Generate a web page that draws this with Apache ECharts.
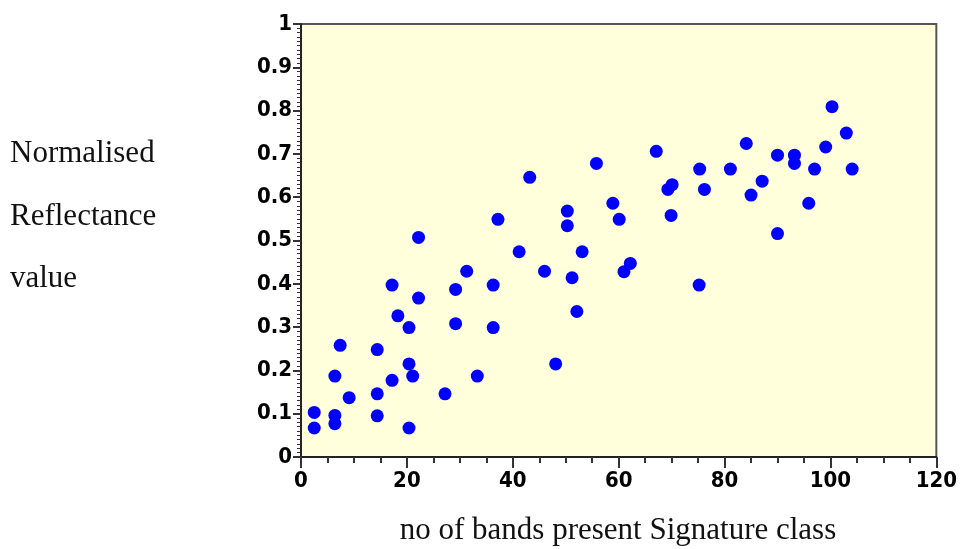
<!DOCTYPE html>
<html>
<head>
<meta charset="utf-8">
<script src="https://cdn.jsdelivr.net/npm/echarts@6/dist/echarts.min.js"></script>
<style>
  html, body { margin: 0; padding: 0; background: #fff; }
  #chart { width: 960px; height: 549px; }
</style>
</head>
<body>
<div id="chart"></div>
<script>
// band counts (x) and normalised reflectance (y)
const bands = [2.5, 2.5, 6.4, 6.4, 6.4, 7.4, 9.1, 14.4, 14.4, 14.4, 17.2, 17.2, 18.3, 20.4, 20.4, 20.4,
  21.1, 22.2, 22.2, 27.2, 29.2, 29.2, 31.3, 33.3, 36.3, 36.3, 37.2, 41.2, 43.2, 46.0, 48.1, 50.3, 50.3,
  51.2, 52.1, 53.1, 55.8, 58.9, 60.1, 61.0, 62.2, 67.1, 69.3, 70.1, 69.9, 75.3, 75.2, 76.2, 81.1, 84.1,
  85.0, 87.1, 90.0, 90.0, 93.2, 93.2, 95.9, 97.0, 99.1, 100.3, 103.0, 104.1];
const reflectance = [0.103, 0.067, 0.187, 0.096, 0.077, 0.258, 0.137, 0.248, 0.146, 0.095, 0.397, 0.177,
  0.326, 0.299, 0.215, 0.067, 0.187, 0.507, 0.367, 0.146, 0.387, 0.308, 0.429, 0.187, 0.397, 0.299, 0.549,
  0.474, 0.646, 0.429, 0.215, 0.568, 0.534, 0.414, 0.336, 0.474, 0.678, 0.586, 0.549, 0.428, 0.447, 0.706,
  0.618, 0.629, 0.558, 0.665, 0.397, 0.618, 0.665, 0.724, 0.605, 0.637, 0.697, 0.516, 0.697, 0.678, 0.586,
  0.665, 0.716, 0.809, 0.748, 0.665];

const yLabelLines = ['Normalised', 'Reflectance', 'value'];
const xTitle = 'no of bands present Signature class';

const points = bands.map((b, i) => [b, reflectance[i]]);

const chart = echarts.init(document.getElementById('chart'));

const tickFont = {
  fontFamily: '"DejaVu Sans Condensed", "Liberation Sans Narrow", "Liberation Sans", sans-serif',
  fontWeight: 'bold',
  fontSize: 22,
  color: '#000'
};
const serif = '31px "Liberation Serif", "Times New Roman", serif';

chart.setOption({
  animation: false,
  backgroundColor: '#fff',
  grid: {
    left: 301, right: 23, top: 24, bottom: 92,
    show: true,
    backgroundColor: '#ffffdc',
    borderColor: '#555',
    borderWidth: 2
  },
  graphic: yLabelLines.map((t, i) => ({
    type: 'text',
    x: 10,
    y: 154 + i * 62.5,
    style: { text: t, font: serif, fill: '#111', verticalAlign: 'middle' }
  })).concat([{
    type: 'text',
    x: 618,
    y: 531,
    style: { text: xTitle, font: serif, fill: '#111', align: 'center', verticalAlign: 'middle' }
  }]),
  xAxis: {
    type: 'value',
    min: 0, max: 120, interval: 20,
    axisLine: { show: true, onZero: false, lineStyle: { color: '#222', width: 2 } },
    axisTick: { show: true, length: 11, lineStyle: { color: '#333', width: 2 } },
    minorTick: { show: true, splitNumber: 4, length: 6, lineStyle: { color: '#333', width: 2 } },
    splitLine: { show: false },
    axisLabel: Object.assign({ margin: 13 }, tickFont)
  },
  yAxis: {
    type: 'value',
    min: 0, max: 1, interval: 0.1,
    axisLine: { show: true, onZero: false, lineStyle: { color: '#222', width: 2 } },
    axisTick: { show: true, length: 8, lineStyle: { color: '#333', width: 2 } },
    minorTick: { show: true, splitNumber: 10, length: 4, lineStyle: { color: '#333', width: 1 } },
    splitLine: { show: false },
    axisLabel: Object.assign({ margin: 9 }, tickFont)
  },
  series: [{
    type: 'scatter',
    data: points,
    symbol: 'circle',
    symbolSize: 13,
    itemStyle: { color: '#0000ff', opacity: 1 }
  }]
});
</script>
</body>
</html>
